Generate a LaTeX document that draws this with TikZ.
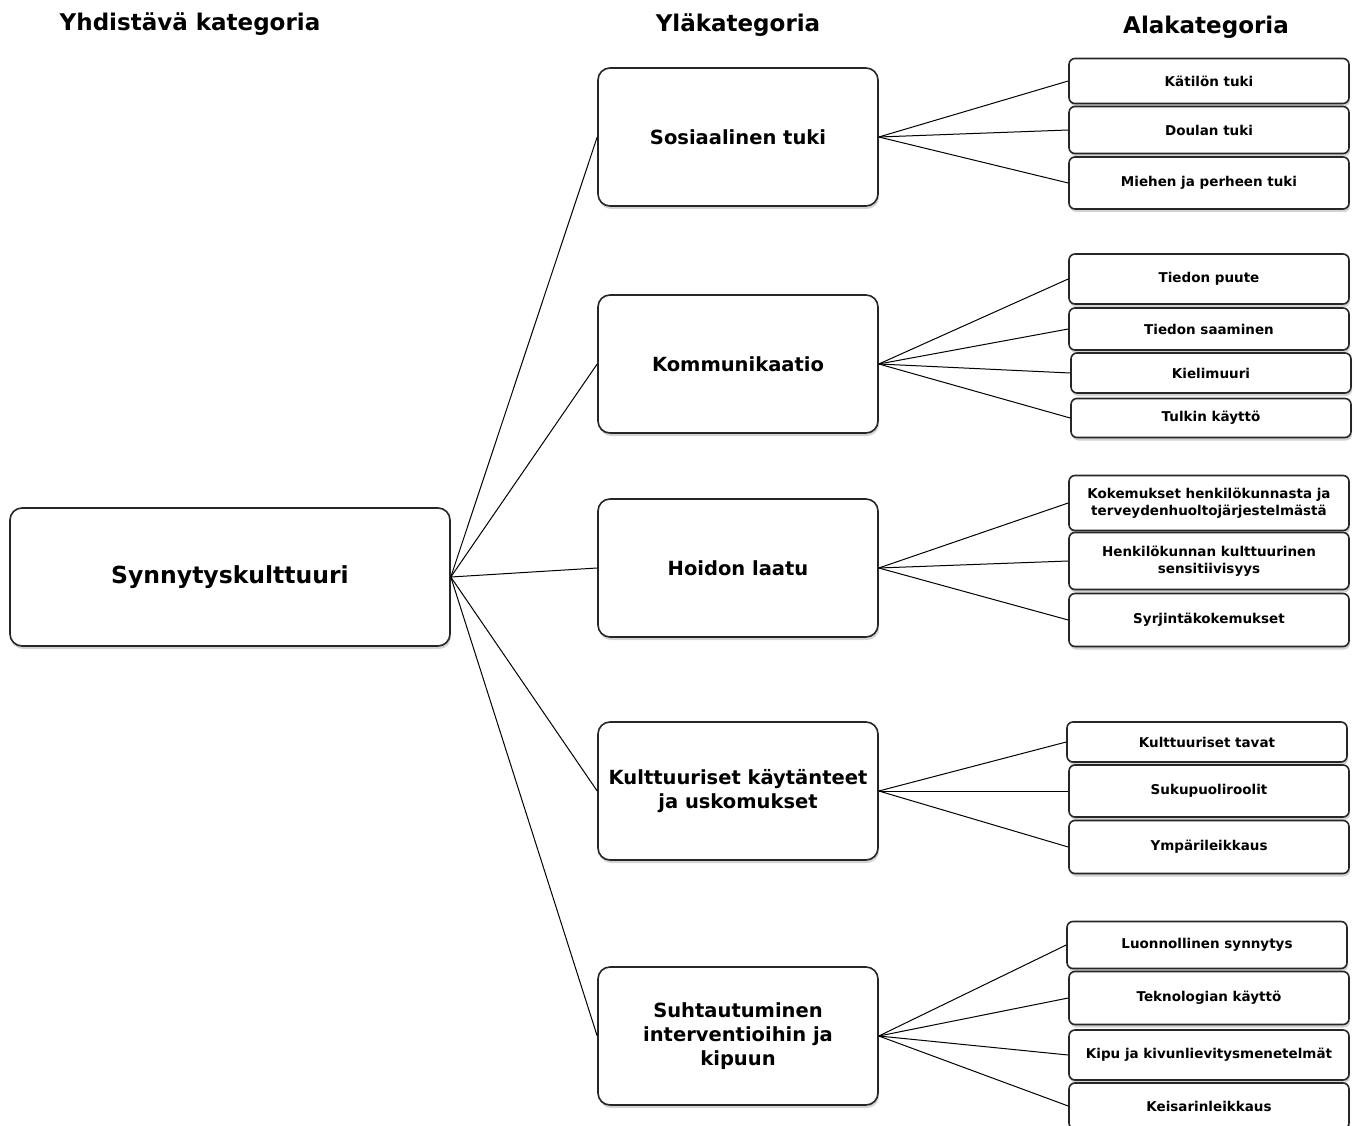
\documentclass[tikz,border=0pt]{standalone}
\usepackage{fontspec}
\setmainfont{DejaVu Sans}
\usetikzlibrary{shadows}

\tikzset{
	laatikko/.style={draw=black!85, line width=1.6pt, fill=white, align=center, font=\bfseries,
		drop shadow={shadow xshift=1pt, shadow yshift=-3pt, opacity=0.35}},
	iso/.style={laatikko, rounded corners=12pt, minimum width=440pt, minimum height=138pt, font=\bfseries\fontsize{23.5}{27}\selectfont},
	keski/.style={laatikko, rounded corners=12pt, minimum width=280pt, minimum height=138pt, font=\bfseries\fontsize{19.5}{24}\selectfont},
	pieni/.style={laatikko, rounded corners=6pt, minimum width=280pt, font=\bfseries\fontsize{13.5}{17}\selectfont},
	otsikko/.style={font=\bfseries\fontsize{23}{27}\selectfont},
	viiva/.style={line width=1pt, black}
}

\begin{document}
\begin{tikzpicture}[x=1pt,y=-1pt]
	\useasboundingbox (0,0) rectangle (1357,1126);
	% otsikot
	\node[otsikko] (h1) at (190,24) {Yhdistävä kategoria};
	\node[otsikko] (h2) at (738,25) {Yläkategoria};
	\node[otsikko] (h3) at (1206,27) {Alakategoria};
	% yhdistävä
	\node[iso] (juuri) at (230,577) {Synnytyskulttuuri};
	% yläkategoriat
	\node[keski] (sos) at (738,137) {Sosiaalinen tuki};
	\node[keski] (kom) at (738,364) {Kommunikaatio};
	\node[keski] (hoi) at (738,568) {Hoidon laatu};
	\node[keski] (kul) at (738,791) {Kulttuuriset käytänteet\\ja uskomukset};
	\node[keski] (suh) at (738,1036) {Suhtautuminen\\interventioihin ja\\kipuun};
	\foreach \p in {sos,kom,hoi,kul,suh}{
		\draw[viiva] (juuri.east) -- (\p.west);
		}
	% alakategoriat
	\foreach \n/\x/\y/\h/\p/\t in {
		a1/1209/81/45/sos/{Kätilön tuki},
		a2/1209/130/47/sos/{Doulan tuki},
		a3/1209/183/52/sos/{Miehen ja perheen tuki},
		b1/1209/279/50/kom/{Tiedon puute},
		b2/1209/329/42/kom/{Tiedon saaminen},
		b3/1211/373/40/kom/{Kielimuuri},
		b4/1211/418/39/kom/{Tulkin käyttö},
		c1/1209/503/55/hoi/{Kokemukset henkilökunnasta ja\\terveydenhuoltojärjestelmästä},
		c2/1209/561/57/hoi/{Henkilökunnan kulttuurinen\\sensitiivisyys},
		c3/1209/620/53/hoi/{Syrjintäkokemukset},
		d1/1207/742/40/kul/{Kulttuuriset tavat},
		d2/1209/791/52/kul/{Sukupuoliroolit},
		d3/1209/847/53/kul/{Ympärileikkaus},
		e1/1207/945/47/suh/{Luonnollinen synnytys},
		e2/1209/998/53/suh/{Teknologian käyttö},
		e3/1209/1055/50/suh/{Kipu ja kivunlievitysmenetelmät},
		e4/1209/1106/46/suh/{Keisarinleikkaus}}{
		\node[pieni, minimum height=\h pt] (\n) at (\x,\y) {\t};
		\draw[viiva] (\p.east) -- (\n.west);
		}
\end{tikzpicture}
\end{document}
